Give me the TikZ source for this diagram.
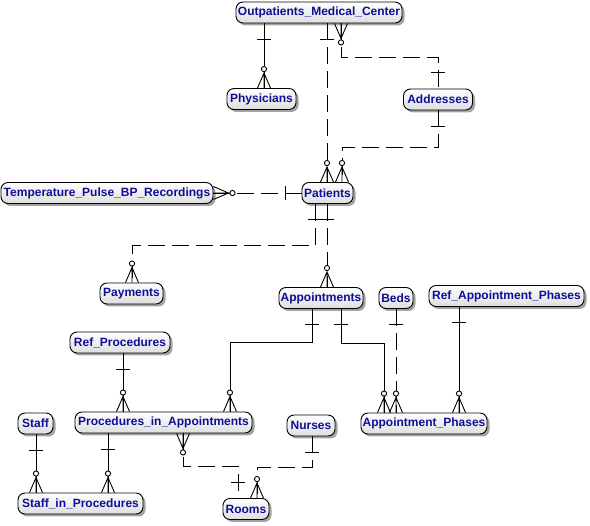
\documentclass[tikz,border=0pt]{standalone}
\usepackage{fontspec}
\setmainfont{Liberation Sans}
\usetikzlibrary{shadows}
\definecolor{entblue}{RGB}{14,14,150}
\newcommand\entfont{\fontsize{12pt}{14pt}\selectfont\bfseries}
\tikzset{
  ent/.style={draw=black, line width=0.9pt, rounded corners=7pt,
    top color=white, bottom color=black!13, minimum height=21pt,
    inner sep=0pt, font=\entfont, text=entblue,
    drop shadow={shadow xshift=2.5pt, shadow yshift=-2.5pt, fill=black!45, opacity=0.8}},
  rel/.style={line width=0.9pt, black},
  nonid/.style={rel, dash pattern=on 17pt off 7pt},
  crow/.pic={
    \draw[rel, solid] (-6.5,0) -- (0,-15) -- (6.5,0) (0,0) -- (0,-16.4);
    \draw[rel, solid, fill=white] (0,-19) circle[radius=2.6];
  },
  onebar/.pic={\draw[rel, solid] (-7,-16) -- (7,-16);}
}
\begin{document}
\begin{tikzpicture}[x=1pt, y=-1pt]
\useasboundingbox (0,0) rectangle (590,526);
% entities
\node[ent, minimum width=166pt] (omc) at (319,12.5) {Outpatients\_Medical\_Center};
\node[ent, minimum width=69pt] (phys) at (261.5,99) {Physicians};
\node[ent, minimum width=69pt] (addr) at (438,99.5) {Addresses};
\node[ent, minimum width=51pt] (pat) at (327.5,193) {Patients};
\node[ent, minimum width=212pt] (temp) at (107,193) {Temperature\_Pulse\_BP\_Recordings};
\node[ent, minimum width=63pt] (pay) at (131.5,293.5) {Payments};
\node[ent, minimum width=84pt] (appt) at (321,298) {Appointments};
\node[ent, minimum width=34pt] (beds) at (396,298) {Beds};
\node[ent, minimum width=155pt] (refap) at (506.5,296) {Ref\_Appointment\_Phases};
\node[ent, minimum width=100pt] (refp) at (120,342.5) {Ref\_Procedures};
\node[ent, minimum width=35pt] (staff) at (35.5,423.5) {Staff};
\node[ent, minimum width=177pt] (pia) at (163.5,422.5) {Procedures\_in\_Appointments};
\node[ent, minimum width=48pt] (nurses) at (311,425.5) {Nurses};
\node[ent, minimum width=126pt] (ap) at (424,423.5) {Appointment\_Phases};
\node[ent, minimum width=125pt] (sip) at (80.5,503.5) {Staff\_in\_Procedures};
\node[ent, minimum width=46pt] (rooms) at (246,509) {Rooms};
% connectors
% OMC - Physicians
\draw[rel] (omc.south -| 264,0) -- (phys.north -| 264,0);
\pic[rotate=180] at (omc.south -| 264,0) {onebar};
\pic at (phys.north -| 264,0) {crow};
% OMC - Patients
\draw[nonid] (omc.south -| 327,0) -- (pat.north -| 327,0);
\pic[rotate=180] at (omc.south -| 327,0) {onebar};
\pic at (pat.north -| 327,0) {crow};
% OMC - Addresses
\draw[nonid] (omc.south -| 341,0) -- ++(0,34) -| (addr.north);
\pic[rotate=180] at (omc.south -| 341,0) {crow};
\pic at (addr.north) {onebar};
% Addresses - Patients
\draw[nonid] (addr.south) -- ++(0,37) -| (pat.north -| 342,0);
\pic[rotate=180] at (addr.south) {onebar};
\pic at (pat.north -| 342,0) {crow};
% Patients - Temperature
\draw[nonid] (temp.east) -- (pat.west);
\pic[rotate=90] at (pat.west) {onebar};
\pic[rotate=-90] at (temp.east) {crow};
% Patients - Payments
\draw[nonid] (pat.south -| 315,0) -- ++(0,42) -| (pay.north -| 132,0);
\pic[rotate=180] at (pat.south -| 315,0) {onebar};
\pic at (pay.north -| 132,0) {crow};
% Patients - Appointments
\draw[nonid] (pat.south -| 327,0) -- (appt.north -| 327,0);
\pic[rotate=180] at (pat.south -| 327,0) {onebar};
\pic at (appt.north -| 327,0) {crow};
% Appointments - Procedures_in_Appointments
\draw[rel] (appt.south -| 312,0) -- ++(0,34) -| (pia.north -| 230,0);
\pic[rotate=180] at (appt.south -| 312,0) {onebar};
\pic at (pia.north -| 230,0) {crow};
% Appointments - Appointment_Phases
\draw[rel] (appt.south -| 341,0) -- ++(0,35) -| (ap.north -| 384,0);
\pic[rotate=180] at (appt.south -| 341,0) {onebar};
\pic at (ap.north -| 384,0) {crow};
% Beds - Appointment_Phases
\draw[nonid] (beds.south) -- (ap.north -| beds.south);
\pic[rotate=180] at (beds.south) {onebar};
\pic at (ap.north -| beds.south) {crow};
% Ref_Appointment_Phases - Appointment_Phases
\draw[rel] (refap.south -| 459,0) -- (ap.north -| 459,0);
\pic[rotate=180] at (refap.south -| 459,0) {onebar};
\pic at (ap.north -| 459,0) {crow};
% Ref_Procedures - Procedures_in_Appointments
\draw[rel] (refp.south -| 123,0) -- (pia.north -| 123,0);
\pic[rotate=180] at (refp.south -| 123,0) {onebar};
\pic at (pia.north -| 123,0) {crow};
% Staff - Staff_in_Procedures
\draw[rel] (staff.south -| 36,0) -- (sip.north -| 36,0);
\pic[rotate=180] at (staff.south -| 36,0) {onebar};
\pic at (sip.north -| 36,0) {crow};
% Procedures_in_Appointments - Staff_in_Procedures
\draw[rel] (pia.south -| 108,0) -- (sip.north -| 108,0);
\pic[rotate=180] at (pia.south -| 108,0) {onebar};
\pic at (sip.north -| 108,0) {crow};
% Procedures_in_Appointments - Rooms
\draw[nonid] (pia.south -| 183,0) -- ++(0,33) -| (rooms.north -| 238,0);
\pic[rotate=180] at (pia.south -| 183,0) {crow};
\pic at (rooms.north -| 238,0) {onebar};
% Nurses - Rooms
\draw[nonid] (nurses.south -| 312,0) -- ++(0,31) -| (rooms.north -| 257,0);
\pic[rotate=180] at (nurses.south -| 312,0) {onebar};
\pic at (rooms.north -| 257,0) {crow};
\end{tikzpicture}
\end{document}
